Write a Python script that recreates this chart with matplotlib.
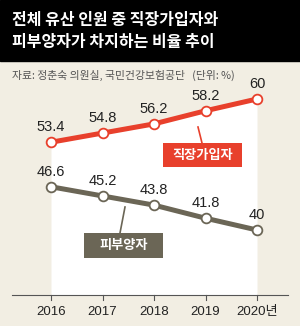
import matplotlib.pyplot as plt
from matplotlib.patches import Rectangle

plt.rcParams['font.family'] = ['Noto Sans CJK KR', 'DejaVu Sans']

years = [2016, 2017, 2018, 2019, 2020]
year_labels = ['2016', '2017', '2018', '2019', '2020년']
employee = [53.4, 54.8, 56.2, 58.2, 60]
dependent = [46.6, 45.2, 43.8, 41.8, 40]

title = '전체 유산 인원 중 직장가입자와\n피부양자가 차지하는 비율 추이'
source = '자료: 정춘숙 의원실, 국민건강보험공단   (단위: %)'

red = '#e8402c'
olive = '#6b6656'
bg = '#f2eee3'

fig = plt.figure(figsize=(3.0, 3.26), dpi=100)
fig.patch.set_facecolor(bg)
ax = fig.add_axes([0, 0, 1, 1])
ax.set_facecolor(bg)
ax.axis('off')

# pixel-based mapping: 2016 -> x=51, 51.5px per year; 40 -> y=230, 6.55px per unit
px_year = 51.5
px_unit = 6.55
x0 = 2016 - 51 / px_year
ax.set_xlim(x0, x0 + 300 / px_year)
ytop = 40 + 230 / px_unit
ax.set_ylim(ytop - 326 / px_unit, ytop)

base = ytop - 295 / px_unit

# white area under the red line
ax.fill_between(years, employee, base, color='white', zorder=1, lw=0)

# baseline and ticks
ax.plot([x0 + 12 / px_year, x0 + 288 / px_year], [base, base], color='#555555', lw=0.8, zorder=2)
for yr, lab in zip(years, year_labels):
    ax.plot([yr, yr], [base, base - 5 / px_unit], color='#555555', lw=0.8, zorder=2)
    ax.text(yr, base - 17 / px_unit, lab, ha='center', va='center', fontsize=9.5,
            color='#222222', family=['Liberation Sans', 'Noto Sans CJK KR'])

ax.plot(years, employee, color=red, lw=3.6, marker='o', ms=7, mfc='white',
        mec=red, mew=1.3, zorder=4, solid_capstyle='butt')
ax.plot(years, dependent, color=olive, lw=3.6, marker='o', ms=7, mfc='white',
        mec=olive, mew=1.3, zorder=4, solid_capstyle='butt')

for yr, v in zip(years, employee):
    ax.text(yr, v + 15 / px_unit, f'{v:g}', ha='center', va='center', fontsize=10.5,
            color='#222222', family='Liberation Sans', zorder=5)
for yr, v in zip(years, dependent):
    ax.text(yr, v + 15 / px_unit, f'{v:g}', ha='center', va='center', fontsize=10.5,
            color='#222222', family='Liberation Sans', zorder=5)


def px(x, y):
    return x0 + x / px_year, ytop - y / px_unit


# series labels with connector lines
ax.plot(*zip(px(198, 127), px(202, 143)), color=red, lw=1.2, zorder=3)
bx, by = px(163, 167)
ax.add_patch(Rectangle((bx, by), 79 / px_year, 24 / px_unit, color=red, zorder=5, lw=0))
ax.text(*px(202.5, 155), '직장가입자', ha='center', va='center', fontsize=9.5,
        color='white', fontweight='bold', zorder=6)

ax.plot(*zip(px(125, 207), px(120, 233)), color=olive, lw=1.2, zorder=3)
bx, by = px(84, 258)
ax.add_patch(Rectangle((bx, by), 79 / px_year, 25 / px_unit, color=olive, zorder=5, lw=0))
ax.text(*px(123.5, 245.5), '피부양자', ha='center', va='center', fontsize=9.5,
        color='white', fontweight='bold', zorder=6)

# header
fig.patches.append(Rectangle((0, 1 - 61 / 326), 1, 61 / 326, transform=fig.transFigure,
                             color='black', zorder=0))
fig.text(12 / 300, 1 - 31 / 326, title, ha='left', va='center', fontsize=11.5,
         color='white', fontweight='bold', linespacing=1.5)
fig.text(12 / 300, 1 - 75 / 326, source, ha='left', va='center', fontsize=7.8,
         color='#555555')

fig.savefig('out.png', dpi=100, facecolor=bg)
